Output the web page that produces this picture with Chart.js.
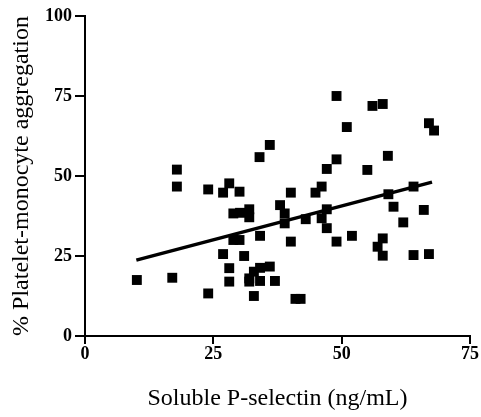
<!DOCTYPE html>
<html lang="en">
<head>
  <meta charset="UTF-8" />
  <title>Platelet-monocyte aggregation vs soluble P-selectin</title>
  <script src="https://cdn.jsdelivr.net/npm/chart.js"></script>
  <style>
    body {
      margin: 0;
      background: #fff;
    }
  </style>
</head>
<body>
  <canvas id="scatter" width="481" height="417"></canvas>

  <script>
    // Soluble P-selectin (ng/mL) and % platelet-monocyte aggregation
    const selectin = [
      10.1, 17.0, 17.9, 17.9, 24.0, 24.0, 28.1, 26.9, 30.1, 28.9,
      30.2, 32.0, 32.0, 34.1, 28.9, 30.1, 26.9, 31.0, 28.1, 28.1,
      32.9, 34.1, 36.0, 32.0, 32.0, 34.1, 37.0, 32.9, 34.0, 36.0,
      38.0, 38.9, 38.9, 40.1, 40.1, 41.0, 42.0, 43.0, 44.9, 46.1,
      47.1, 46.1, 47.1, 47.1, 49.0, 49.0, 49.0, 51.0, 52.0, 55.0,
      56.0, 58.0, 59.0, 59.1, 64.0, 60.1, 66.0, 62.0, 58.0, 57.0,
      58.0, 64.0, 67.0, 67.0, 68.0
    ];
    const aggregation = [
      17.5, 18.2, 52.0, 46.7, 45.8, 13.3, 47.7, 44.8, 45.1, 38.3,
      38.5, 39.6, 37.1, 31.3, 30.0, 30.0, 25.6, 25.0, 21.2, 17.0,
      20.1, 21.3, 21.7, 18.0, 17.0, 17.2, 17.2, 12.5, 55.9, 59.7,
      40.9, 38.3, 35.2, 44.8, 29.5, 11.6, 11.6, 36.5, 44.8, 46.7,
      39.6, 36.8, 33.7, 52.2, 55.2, 75.0, 29.5, 65.3, 31.3, 51.9,
      71.9, 72.5, 56.3, 44.3, 46.7, 40.4, 39.4, 35.5, 30.5, 27.9,
      25.1, 25.3, 25.6, 66.5, 64.2
    ];

    // linear fit, end points as drawn
    const fitX = [10, 67.6];
    const fitY = [23.7, 48.1];

    const xTicks = [0, 25, 50, 75];
    const yTicks = [0, 25, 50, 75, 100];

    const serif = "'Liberation Serif', 'Times New Roman', serif";

    const points = selectin.map((x, i) => ({ x: x, y: aggregation[i] }));
    const fitLine = fitX.map((x, i) => ({ x: x, y: fitY[i] }));

    new Chart(document.getElementById('scatter'), {
      type: 'scatter',
      data: {
        datasets: [
          {
            label: 'Patients',
            data: points,
            pointStyle: 'rect',
            pointRadius: 7,
            pointHoverRadius: 7,
            backgroundColor: '#000',
            borderColor: '#000',
            borderWidth: 0
          },
          {
            label: 'Linear fit',
            data: fitLine,
            showLine: true,
            pointRadius: 0,
            borderColor: '#000',
            borderWidth: 3.5
          }
        ]
      },
      options: {
        responsive: false,
        animation: false,
        layout: { padding: { left: 0, right: 11, top: 16, bottom: 0 } },
        plugins: {
          legend: { display: false },
          tooltip: { enabled: false }
        },
        scales: {
          x: {
            type: 'linear',
            min: 0,
            max: 75,
            afterBuildTicks: s => { s.ticks = xTicks.map(v => ({ value: v })); },
            afterFit: s => { s.height = 81; },
            border: { color: '#000', width: 2 },
            grid: { drawOnChartArea: false, color: '#000', tickColor: '#000', tickLength: 8, lineWidth: 2 },
            ticks: { color: '#000', padding: 0, font: { family: serif, size: 18, weight: 'bold' } },
            title: {
              display: true,
              text: 'Soluble P-selectin (ng/mL)',
              color: '#000',
              font: { family: serif, size: 24 },
              padding: { top: 0, bottom: 4 }
            }
          },
          y: {
            type: 'linear',
            min: 0,
            max: 100,
            afterBuildTicks: s => { s.ticks = yTicks.map(v => ({ value: v })); },
            afterFit: s => { s.width = 85; },
            border: { color: '#000', width: 2 },
            grid: { drawOnChartArea: false, color: '#000', tickColor: '#000', tickLength: 10, lineWidth: 2 },
            ticks: { color: '#000', padding: 3, font: { family: serif, size: 18, weight: 'bold' } },
            title: {
              display: true,
              text: '% Platelet-monocyte aggregation',
              color: '#000',
              font: { family: serif, size: 24 },
              padding: { top: 7, bottom: 0 }
            }
          }
        }
      }
    });
  </script>
</body>
</html>
